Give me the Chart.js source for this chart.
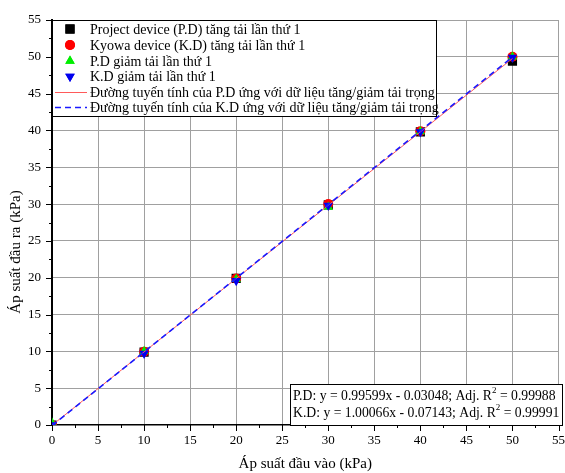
<!DOCTYPE html>
<html><head><meta charset="utf-8">
<script src="https://cdn.jsdelivr.net/npm/chart.js@4/dist/chart.umd.min.js"></script>
<style>html,body{margin:0;padding:0;background:#fff}#wrap{width:565px;height:473px}</style>
</head><body><div id="wrap"><canvas id="c" width="565" height="473"></canvas></div>
<script>
const xVals = [0, 10, 20, 30, 40, 50];
const pdUp = [0, 9.9, 19.9, 29.9, 39.8, 49.4];
const kdUp = [0, 9.95, 19.9, 30.0, 39.9, 50.0];
const pdDown = [0.3, 10.0, 19.8, 29.6, 39.85, 50.0];
const kdDown = [0, 9.7, 19.6, 29.8, 39.8, 49.9];
const fitX = [0, 50];
const pdFit = [-0.03, 49.77];
const kdFit = [-0.07, 49.96];
const labels = [
  "Project device (P.D) tăng tải lần thứ 1",
  "Kyowa device (K.D) tăng tải lần thứ 1",
  "P.D giảm tải lần thứ 1",
  "K.D giảm tải lần thứ 1",
  "Đường tuyến tính của P.D ứng với dữ liệu tăng/giảm tải trọng",
  "Đường tuyến tính của K.D ứng với dữ liệu tăng/giảm tải trọng"
];
const eqLines = [
  ["P.D: y = 0.99599x - 0.03048; Adj. R", "2", " = 0.99988"],
  ["K.D: y = 1.00066x - 0.07143; Adj. R", "2", " = 0.99991"]
];
const xTitle = "Áp suất đầu vào (kPa)";
const yTitle = "Áp suất đầu ra (kPa)";

const FONT = "'Liberation Serif', 'Times New Roman', serif";
const pts = (xs, ys) => xs.map((x, i) => ({x: x, y: ys[i]}));
const RAD = {rect: 6.5, circle: 5, triangle: 5.5};

const markerDs = (label, data, style, color, rot) => ({
  type: 'scatter', label, data: pts(xVals, data), pointStyle: style, rotation: rot || 0,
  pointRadius: RAD[style], backgroundColor: color, borderColor: color, borderWidth: 0, showLine: false
});

const ds = [
  {type:'line', label: labels[4], data: pts(fitX, pdFit), borderColor:'#ff5a5a', borderWidth:1, pointRadius:0, fill:false, order:1},
  {type:'line', label: labels[5], data: pts(fitX, kdFit), borderColor:'#1a1aff', borderWidth:1.6, borderDash:[6,4], pointRadius:0, fill:false, order:0},
  Object.assign(markerDs(labels[0], pdUp, 'rect', '#000000'), {order:5}),
  Object.assign(markerDs(labels[1], kdUp, 'circle', '#ff0000'), {order:4}),
  Object.assign(markerDs(labels[2], pdDown, 'triangle', '#00ee00'), {order:3}),
  Object.assign(markerDs(labels[3], kdDown, 'triangle', '#0000ee', 180), {order:2})
];

function drawMarker(ctx, style, x, y, color, rot) {
  ctx.save();
  ctx.fillStyle = color;
  Chart.helpers.drawPoint(ctx, {pointStyle: style, rotation: rot || 0, radius: RAD[style], borderWidth: 0}, x, y);
  ctx.fill();
  ctx.restore();
}

const overlay = {
  id: 'overlay',
  afterDraw(chart) {
    const ctx = chart.ctx;
    const xs = chart.scales.x, ys = chart.scales.y;
    const L = xs.left, B = ys.bottom;
    ctx.save();
    // minor/major ticks
    ctx.strokeStyle = '#000'; ctx.lineWidth = 1;
    for (let v = 0; v <= 55.001; v += 2.5) {
      const major = Math.abs(v / 5 - Math.round(v / 5)) < 1e-6;
      const len = major ? 6 : 3;
      const px = Math.round(xs.getPixelForValue(v)) + 0.5;
      ctx.beginPath(); ctx.moveTo(px, B); ctx.lineTo(px, B + len); ctx.stroke();
      const py = Math.round(ys.getPixelForValue(v)) + 0.5;
      ctx.beginPath(); ctx.moveTo(L, py); ctx.lineTo(L - len, py); ctx.stroke();
    }
    // y title
    ctx.save();
    ctx.translate(16, 252);
    ctx.rotate(-Math.PI / 2);
    ctx.font = '15px ' + FONT;
    ctx.fillStyle = '#000';
    ctx.textAlign = 'center';
    ctx.textBaseline = 'middle';
    ctx.fillText(yTitle, 0, 0);
    ctx.restore();
    // legend box
    const bx = L + 0.5, by = ys.top + 0.5, bw = 384, bh = 96;
    ctx.fillStyle = '#fff';
    ctx.fillRect(bx, by, bw, bh);
    ctx.strokeStyle = '#000'; ctx.lineWidth = 1;
    ctx.strokeRect(bx, by, bw, bh);
    ctx.font = '14px ' + FONT;
    ctx.fillStyle = '#000';
    ctx.textBaseline = 'middle';
    const rowY = [29, 45, 61, 76.5, 92, 107.5];
    const symX = 70, txtX = 90;
    drawMarker(ctx, 'rect', symX, rowY[0], '#000000');
    drawMarker(ctx, 'circle', symX, rowY[1], '#ff0000');
    drawMarker(ctx, 'triangle', symX, rowY[2], '#00ee00');
    drawMarker(ctx, 'triangle', symX, rowY[3], '#0000ee', 180);
    ctx.strokeStyle = '#ff5a5a'; ctx.lineWidth = 1;
    ctx.beginPath(); ctx.moveTo(55, rowY[4] + 0.5); ctx.lineTo(87, rowY[4] + 0.5); ctx.stroke();
    ctx.strokeStyle = '#1a1aff'; ctx.lineWidth = 1.6; ctx.setLineDash([6, 4]);
    ctx.beginPath(); ctx.moveTo(55, rowY[5]); ctx.lineTo(87, rowY[5]); ctx.stroke();
    ctx.setLineDash([]);
    ctx.fillStyle = '#000';
    for (let i = 0; i < 6; i++) ctx.fillText(labels[i], txtX, rowY[i] + 1);
    // equation box
    const ex = 290.5, ey = 384.5, ew = 272, eh = 41;
    ctx.fillStyle = '#fff';
    ctx.fillRect(ex, ey, ew, eh);
    ctx.strokeStyle = '#000'; ctx.lineWidth = 1;
    ctx.strokeRect(ex, ey, ew, eh);
    ctx.fillStyle = '#000';
    const eqY = [396, 413];
    eqLines.forEach((parts, i) => {
      let x = 293;
      ctx.font = '13.7px ' + FONT;
      ctx.fillText(parts[0], x, eqY[i]); x += ctx.measureText(parts[0]).width;
      ctx.font = '9px ' + FONT;
      ctx.fillText(parts[1], x, eqY[i] - 5); x += ctx.measureText(parts[1]).width;
      ctx.font = '13.7px ' + FONT;
      ctx.fillText(parts[2], x, eqY[i]);
    });
    ctx.restore();
  }
};

const gridColor = (c) => {
  const v = c.tick && c.tick.value;
  if (v === undefined || v === 0) return 'rgba(0,0,0,0)';
  return Math.abs(v / 5 - Math.round(v / 5)) < 1e-6 ? '#a0a0a0' : 'rgba(0,0,0,0)';
};

new Chart(document.getElementById('c'), {
  data: { datasets: ds },
  options: {
    responsive: false, animation: false,
    devicePixelRatio: 1,
    layout: { padding: { top: 20, right: 2, left: 0, bottom: 0 } },
    plugins: { legend: { display: false }, tooltip: { enabled: false } },
    scales: {
      x: {
        type: 'linear', min: 0, max: 55,
        afterFit: s => { s.height = 48; s.paddingRight = 0; s.paddingLeft = 0; },
        ticks: { stepSize: 5, font: { family: FONT, size: 13 }, color: '#000', padding: 8, maxRotation: 0, autoSkip: false },
        grid: { drawTicks: false, color: gridColor, lineWidth: 1 },
        border: { display: true, color: '#000', width: 1.5 },
        title: { display: true, text: xTitle, font: { family: FONT, size: 15 }, color: '#000', padding: { top: 4, bottom: 0 } }
      },
      y: {
        type: 'linear', min: 0, max: 55,
        afterFit: s => { s.width = 52; s.paddingTop = 0; s.paddingBottom = 0; },
        ticks: { stepSize: 5, font: { family: FONT, size: 13 }, color: '#000', padding: 11 },
        grid: { drawTicks: false, color: gridColor, lineWidth: 1 },
        border: { display: true, color: '#000', width: 2 }
      }
    }
  },
  plugins: [overlay]
});
</script>
</body></html>
